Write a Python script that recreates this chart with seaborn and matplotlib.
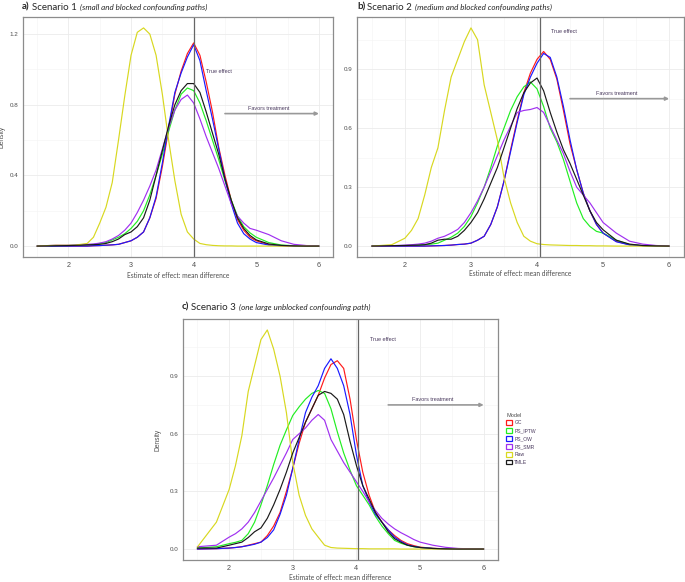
import numpy as np
import pandas as pd
import matplotlib
matplotlib.use("Agg")
import matplotlib.pyplot as plt
import seaborn as sns
from matplotlib.patches import Patch

sns.set_style("white")
plt.rcParams['font.family'] = ['Liberation Sans', 'DejaVu Sans']

# common x grid the curves were read on
x_grid = [1.5, 1.8,
          2.0, 2.1, 2.2, 2.3, 2.4, 2.5, 2.6, 2.7, 2.8, 2.9,
          3.0, 3.1, 3.2, 3.3, 3.4, 3.5, 3.6, 3.7, 3.8, 3.9,
          4.0, 4.1, 4.2, 4.3, 4.4, 4.5, 4.6, 4.7, 4.8, 4.9,
          5.0, 5.2, 5.4, 5.6, 5.8, 6.0]

models = ['GC', 'PS_IPTW', 'PS_OW', 'PS_SMR', 'Raw', 'TMLE']
palette = {'GC': '#ff1a1a', 'PS_IPTW': '#22ee22', 'PS_OW': '#1a1aff',
           'PS_SMR': '#a030f0', 'Raw': '#d8d820', 'TMLE': '#1a1a1a'}

##---------------------------------------------------------------------------
# Scenario 1
gc_a = [0, 0,
        0, 0, 0, 0, 0.002, 0.003, 0.005, 0.007, 0.01, 0.02,
        0.03, 0.05, 0.08, 0.16, 0.27, 0.45, 0.66, 0.86, 0.99, 1.09,
        1.15, 1.08, 0.93, 0.76, 0.56, 0.4, 0.26, 0.15, 0.09, 0.05,
        0.03, 0.008, 0.002, 0, 0, 0]
iptw_a = [0, 0.002,
          0.003, 0.004, 0.005, 0.007, 0.01, 0.015, 0.02, 0.035, 0.05, 0.07,
          0.1, 0.14, 0.2, 0.29, 0.4, 0.52, 0.65, 0.77, 0.86, 0.895,
          0.88, 0.81, 0.71, 0.6, 0.49, 0.37, 0.26, 0.17, 0.11, 0.075,
          0.05, 0.02, 0.006, 0.002, 0, 0]
ow_a = [0, 0,
        0, 0, 0, 0, 0.002, 0.003, 0.005, 0.007, 0.01, 0.02,
        0.03, 0.05, 0.08, 0.16, 0.28, 0.47, 0.68, 0.87, 0.98, 1.07,
        1.14, 1.05, 0.88, 0.72, 0.55, 0.38, 0.24, 0.13, 0.07, 0.04,
        0.02, 0.006, 0.002, 0, 0, 0]
smr_a = [0.0, 0.005,
         0.005, 0.006, 0.008, 0.01, 0.012, 0.017, 0.025, 0.04, 0.06, 0.09,
         0.13, 0.19, 0.26, 0.34, 0.43, 0.55, 0.67, 0.77, 0.83, 0.855,
         0.81, 0.72, 0.62, 0.53, 0.44, 0.34, 0.24, 0.17, 0.13, 0.1,
         0.09, 0.065, 0.03, 0.01, 0.003, 0.0]
raw_a = [0.0, 0.005,
         0.005, 0.005, 0.01, 0.015, 0.05, 0.13, 0.22, 0.36, 0.6, 0.85,
         1.08, 1.21, 1.235, 1.2, 1.08, 0.86, 0.6, 0.37, 0.18, 0.08,
         0.04, 0.015, 0.008, 0.004, 0.002, 0.001, 0.001, 0, 0, 0,
         0, 0, 0, 0, 0, 0]
tmle_a = [0, 0.002,
          0.003, 0.004, 0.005, 0.007, 0.008, 0.01, 0.015, 0.025, 0.04, 0.065,
          0.08, 0.11, 0.16, 0.26, 0.4, 0.54, 0.68, 0.8, 0.88, 0.92,
          0.92, 0.87, 0.76, 0.64, 0.52, 0.38, 0.26, 0.16, 0.1, 0.06,
          0.035, 0.012, 0.004, 0.001, 0, 0]

# Scenario 2
gc_b = [0, 0,
        0, 0, 0, 0, 0.001, 0.002, 0.003, 0.005, 0.008, 0.01,
        0.015, 0.03, 0.05, 0.11, 0.2, 0.33, 0.49, 0.64, 0.78, 0.88,
        0.95, 0.99, 0.95, 0.85, 0.69, 0.52, 0.39, 0.27, 0.18, 0.11,
        0.066, 0.024, 0.007, 0.002, 0, 0]
iptw_b = [0, 0.002,
          0.003, 0.004, 0.005, 0.007, 0.01, 0.015, 0.03, 0.045, 0.066, 0.1,
          0.15, 0.22, 0.3, 0.4, 0.51, 0.6, 0.69, 0.76, 0.81, 0.835,
          0.8, 0.71, 0.6, 0.53, 0.44, 0.33, 0.22, 0.14, 0.1, 0.075,
          0.066, 0.03, 0.008, 0.002, 0, 0]
ow_b = [0, 0,
        0, 0, 0, 0, 0.001, 0.002, 0.003, 0.005, 0.008, 0.01,
        0.015, 0.03, 0.05, 0.11, 0.2, 0.33, 0.48, 0.63, 0.77, 0.86,
        0.93, 0.98, 0.96, 0.86, 0.71, 0.54, 0.39, 0.27, 0.18, 0.11,
        0.066, 0.022, 0.006, 0.002, 0, 0]
smr_b = [0, 0.002,
         0.005, 0.007, 0.01, 0.015, 0.025, 0.04, 0.05, 0.066, 0.085, 0.12,
         0.17, 0.23, 0.3, 0.38, 0.46, 0.54, 0.61, 0.68, 0.69, 0.695,
         0.705, 0.68, 0.61, 0.54, 0.47, 0.38, 0.3, 0.26, 0.22, 0.17,
         0.12, 0.066, 0.025, 0.01, 0.003, 0]
raw_b = [0.0, 0.007,
         0.04, 0.08, 0.14, 0.26, 0.4, 0.5, 0.69, 0.86, 0.95, 1.04,
         1.11, 1.05, 0.82, 0.68, 0.54, 0.35, 0.22, 0.12, 0.05, 0.025,
         0.012, 0.008, 0.006, 0.005, 0.004, 0.003, 0.003, 0.002, 0.002, 0.001,
         0.001, 0, 0, 0, 0, 0]
tmle_b = [0, 0.002,
          0.003, 0.004, 0.005, 0.007, 0.015, 0.03, 0.035, 0.035, 0.05, 0.08,
          0.12, 0.17, 0.24, 0.32, 0.4, 0.5, 0.6, 0.7, 0.78, 0.83,
          0.855, 0.79, 0.68, 0.58, 0.49, 0.42, 0.34, 0.26, 0.18, 0.12,
          0.083, 0.03, 0.01, 0.003, 0.001, 0]

# Scenario 3
gc_c = [0, 0.002,
        0.005, 0.008, 0.012, 0.02, 0.028, 0.036, 0.07, 0.12, 0.19, 0.3,
        0.42, 0.55, 0.66, 0.73, 0.8, 0.89, 0.96, 0.98, 0.94, 0.78,
        0.57, 0.4, 0.28, 0.19, 0.14, 0.1, 0.07, 0.045, 0.028, 0.018,
        0.01, 0.004, 0.001, 0, 0, 0]
iptw_c = [0.005, 0.012,
          0.028, 0.035, 0.045, 0.08, 0.14, 0.23, 0.33, 0.44, 0.54, 0.62,
          0.695, 0.74, 0.78, 0.81, 0.825, 0.81, 0.73, 0.61, 0.5, 0.41,
          0.33, 0.28, 0.23, 0.17, 0.12, 0.08, 0.045, 0.03, 0.02, 0.012,
          0.008, 0.003, 0.001, 0, 0, 0]
ow_c = [0, 0.002,
        0.005, 0.008, 0.012, 0.018, 0.025, 0.036, 0.06, 0.1, 0.18, 0.28,
        0.42, 0.57, 0.71, 0.79, 0.85, 0.94, 0.99, 0.94, 0.85, 0.7,
        0.49, 0.33, 0.245, 0.18, 0.14, 0.1, 0.062, 0.04, 0.022, 0.014,
        0.008, 0.003, 0.001, 0, 0, 0]
smr_c = [0.012, 0.02,
         0.062, 0.08, 0.105, 0.14, 0.19, 0.25, 0.31, 0.37, 0.435, 0.5,
         0.57, 0.6, 0.63, 0.67, 0.7, 0.67, 0.57, 0.51, 0.45, 0.4,
         0.35, 0.3, 0.245, 0.2, 0.16, 0.13, 0.105, 0.085, 0.068, 0.05,
         0.036, 0.02, 0.009, 0.003, 0.001, 0]
raw_c = [0.01, 0.14,
         0.31, 0.435, 0.59, 0.82, 0.955, 1.09, 1.14, 1.04, 0.9, 0.71,
         0.45, 0.28, 0.175, 0.105, 0.062, 0.02, 0.008, 0.005, 0.004, 0.003,
         0.002, 0.002, 0.001, 0.001, 0.001, 0.001, 0.001, 0, 0, 0,
         0, 0, 0, 0, 0, 0]
tmle_c = [0.005, 0.005,
          0.02, 0.028, 0.036, 0.06, 0.09, 0.11, 0.16, 0.23, 0.31, 0.4,
          0.5, 0.58, 0.66, 0.73, 0.8, 0.82, 0.81, 0.78, 0.7, 0.56,
          0.435, 0.33, 0.26, 0.19, 0.14, 0.09, 0.054, 0.035, 0.02, 0.013,
          0.008, 0.003, 0.001, 0, 0, 0]

true_effect = [4.0, 4.04, 4.03]
x_ticks = [2, 3, 4, 5, 6]
yticks_a = [0.0, 0.4, 0.8, 1.2]
yticks_bc = [0.0, 0.3, 0.6, 0.9]
##---------------------------------------------------------------------------

fig = plt.figure(figsize=(6.85, 5.82), dpi=100)
W, H = 685.0, 582.0

def box(left, top, right, bottom):
    return [left / W, 1 - bottom / H, (right - left) / W, (bottom - top) / H]

TXT = '#4d4d4d'
LAB = '#4a3a5e'

def painel(ax, curves, yticks, vline, ylabel, xlab_y, ylab_x):
    df = pd.DataFrame({
        'x': np.tile(x_grid, len(models)),
        'density': np.concatenate([np.asarray(c, float) for c in curves]),
        'Model': np.repeat(models, len(x_grid)),
    })
    sns.lineplot(data=df, x='x', y='density', hue='Model', hue_order=models,
                 palette=palette, estimator=None, sort=False, legend=False,
                 linewidth=0.85, ax=ax)
    ymax = df['density'].max()
    ax.set_xlim(1.5 - 0.225, 6 + 0.225)
    ax.set_ylim(-0.05 * ymax, ymax * 1.05)
    ax.set_xticks(x_ticks)
    ax.set_xticks([1.5, 2.5, 3.5, 4.5, 5.5], minor=True)
    ax.set_yticks(yticks)
    step = yticks[1] - yticks[0]
    ax.set_yticks([t + step / 2 for t in yticks if t + step / 2 < ymax * 1.05], minor=True)
    ax.set_xticklabels([str(t) for t in x_ticks], fontsize=5.2, color=TXT)
    ax.set_yticklabels(['%.1f' % t for t in yticks], fontsize=4.5, color=TXT)
    ax.tick_params(which='major', length=2, width=0.5, color='#888888', pad=1.5)
    ax.tick_params(which='minor', length=0)
    ax.grid(which='major', color='#ebebeb', linewidth=0.6)
    ax.grid(which='minor', color='#f3f3f3', linewidth=0.4)
    ax.set_axisbelow(True)
    for s in ax.spines.values():
        s.set_color('#8c8c8c')
        s.set_linewidth(0.9)
    ax.axvline(vline, color='#666666', linewidth=0.9)
    ax.set_xlabel('Estimate of effect: mean difference', fontsize=4.8, color=TXT,
                  family='Lato')
    ax.xaxis.set_label_coords(0.5, xlab_y)
    ax.set_ylabel(ylabel, fontsize=4.8, color=TXT)
    ax.yaxis.set_label_coords(ylab_x, 0.5)
    ax.annotate('', xy=(6.0, 0.75), xytext=(4.5, 0.75),
                arrowprops=dict(arrowstyle='-|>', color='#999999', lw=1.2,
                                mutation_scale=5, shrinkA=0, shrinkB=0))
    ax.text(5.2, 0.765, 'Favors treatment', fontsize=4, color=LAB,
            ha='center', va='bottom')
    return ax

def titulo(px, py, letter, scen, note):
    r = fig.canvas.get_renderer()
    t = fig.text(px / W, 1 - py / H, letter, fontsize=7, fontweight='bold',
                 family='Lato', va='center')
    x1 = t.get_window_extent(r).x1
    t = fig.text(x1 / W + 2 / W, 1 - py / H, scen, fontsize=7,
                 family='Lato', va='center')
    x1 = t.get_window_extent(r).x1
    fig.text(x1 / W + 3 / W, 1 - py / H, note, fontsize=5.8, style='italic',
             family='Lato', va='center')

ax_a = fig.add_axes(box(23, 17, 333, 257))
painel(ax_a, [gc_a, iptw_a, ow_a, smr_a, raw_a, tmle_a], yticks_a, true_effect[0],
       'Density', -15 / 240, -17 / 310)
ax_a.text(4.4, 0.99, 'True effect', fontsize=4, color=LAB, ha='center', va='center')

ax_b = fig.add_axes(box(357, 17, 684, 257))
painel(ax_b, [gc_b, iptw_b, ow_b, smr_b, raw_b, tmle_b], yticks_bc, true_effect[1],
       '', -13 / 240, -0.06)
ax_b.text(4.4, 1.09, 'True effect', fontsize=4, color=LAB, ha='center', va='center')

ax_c = fig.add_axes(box(183, 319, 498, 560))
painel(ax_c, [gc_c, iptw_c, ow_c, smr_c, raw_c, tmle_c], yticks_bc, true_effect[2],
       'Density', -14 / 241, -21 / 315)
ax_c.text(4.41, 1.09, 'True effect', fontsize=4, color=LAB, ha='center', va='center')

titulo(22, 7, 'a)', 'Scenario 1', '(small and blocked confounding paths)')
titulo(357, 7, 'b)', 'Scenario 2', '(medium and blocked confounding paths)')
titulo(182, 307, 'c)', 'Scenario 3', '(one large unblocked confounding path)')

# legenda com caixas contornadas, como no ggplot
handles = [Patch(facecolor='white', edgecolor=palette[m], linewidth=0.9, label=m) for m in models]
leg = ax_c.legend(handles=handles, title='Model', loc='upper left',
                  bbox_to_anchor=(1.02, 0.62), frameon=False, fontsize=3.6,
                  title_fontsize=4, handlelength=1.1, handleheight=1.1,
                  handletextpad=0.5, labelspacing=0.55, borderaxespad=0)
leg._legend_box.align = 'left'
for t in leg.get_texts():
    t.set_color(LAB)
leg.get_title().set_color(TXT)

fig.savefig('out.png', dpi=100)
